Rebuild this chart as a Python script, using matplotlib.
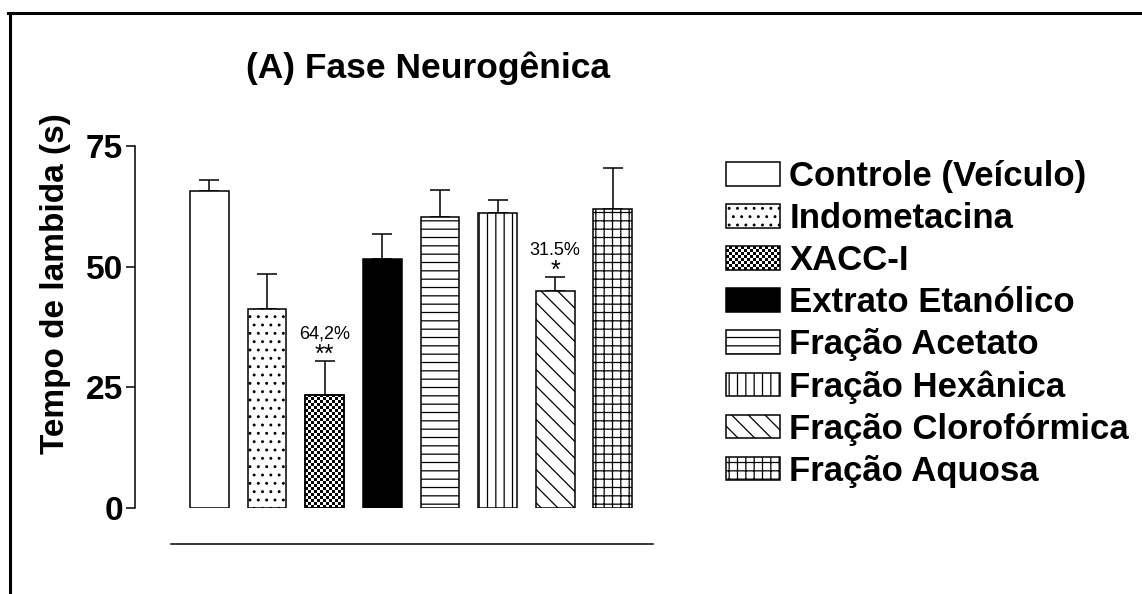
import numpy as np
import matplotlib
matplotlib.use("Agg")
import matplotlib.pyplot as plt
from matplotlib.patches import Rectangle
from matplotlib.lines import Line2D
from matplotlib.legend_handler import HandlerPatch

plt.rcParams['font.family'] = ['Liberation Sans', 'DejaVu Sans']
plt.rcParams['hatch.linewidth'] = 0.9

# Tempo de lambida na fase neurogênica (média e EPM)
grupos = ['Controle (Veículo)', 'Indometacina', 'XACC-I', 'Extrato Etanólico',
          'Fração Acetato', 'Fração Hexânica', 'Fração Clorofórmica', 'Fração Aquosa']
medias = [65.6, 41.2, 23.5, 51.6, 60.3, 61.2, 44.9, 61.9]
epm = [2.4, 7.2, 7.0, 5.1, 5.5, 2.6, 2.9, 8.5]
hachuras = ['', '..', None, '', '--', '||', '\\\\', '++']
cores = ['white', 'white', 'white', 'black', 'white', 'white', 'white', 'white']
inibicao = {2: ('64,2%', '**'), 6: ('31.5%', '*')}

W, H = 1142, 594
fig = plt.figure(figsize=(W / 100, H / 100), dpi=100)
ax = fig.add_axes([135 / W, 1 - 508 / H, (652.7 - 135) / W, (508 - 146) / H])

x = np.arange(len(grupos))
bars = ax.bar(x, medias, width=0.675, color=cores, edgecolor='black', linewidth=1.1,
              hatch=[h or '' for h in hachuras], zorder=2)
ax.errorbar(x, medias, yerr=[np.zeros(len(epm)), epm], fmt='none', ecolor='black',
            elinewidth=1.1, capsize=7.2, capthick=1.1, zorder=1)

ax.set_xlim(-1.29, 7.69)
ax.set_ylim(0, 75)


def checker_squares(x0, y0, w, h, nx, ny, **kw):
    cw, ch = w / nx, h / ny
    quads = []
    for i in range(nx):
        for j in range(ny):
            if (i + j) % 2 == 0:
                quads.append(Rectangle((x0 + i * cw, y0 + j * ch), cw, ch,
                                       facecolor='black', edgecolor='none', **kw))
    return quads


# XACC-I: fill in checkerboard of ~3 px cells
b = bars[2]
px_per_x = ax.transData.transform((1, 0))[0] - ax.transData.transform((0, 0))[0]
px_per_y = ax.transData.transform((0, 1))[1] - ax.transData.transform((0, 0))[1]
nx = int(round(b.get_width() * px_per_x / 3))
ny = int(round(b.get_height() * px_per_y / 3))
for sq in checker_squares(b.get_x(), 0, b.get_width(), ny * 3 / px_per_y, nx, ny, zorder=2.5):
    sq.set_clip_path(b)
    ax.add_patch(sq)
ax.add_patch(Rectangle((b.get_x(), 0), b.get_width(), b.get_height(), fill=False,
                       edgecolor='black', linewidth=1.1, zorder=3))

for i, (pct, star) in inibicao.items():
    top = medias[i] + epm[i]
    ax.text(x[i], top + 1.3, star, ha='center', va='center', fontsize=18)
    ax.text(x[i], top + 5.6, pct, ha='center', va='center', fontsize=13)

for s in ['top', 'right']:
    ax.spines[s].set_visible(False)
ax.spines['left'].set_linewidth(1.1)
ax.spines['left'].set_bounds(0, 75)
ax.spines['bottom'].set_position(('outward', 26))
ax.spines['bottom'].set_bounds(-0.67, 7.69)
ax.spines['bottom'].set_linewidth(1.1)
ax.set_xticks([])
ax.set_yticks([0, 25, 50, 75])
ax.tick_params(axis='y', length=6.5, width=1.1, pad=2.2, labelsize=24)
for lbl in ax.get_yticklabels():
    lbl.set_fontweight('bold')


class HandlerChecker(HandlerPatch):
    def create_artists(self, legend, orig_handle, xdescent, ydescent, width, height,
                       fontsize, trans):
        x0, y0 = -xdescent, -ydescent
        arts = checker_squares(x0, y0, width, height, 18, 8)
        frame = Rectangle((x0, y0), width, height, fill=False, edgecolor='black', linewidth=1.1)
        for a in arts + [frame]:
            a.set_transform(trans)
        return arts + [frame]


leg = fig.legend(bars.patches, grupos, loc='upper left', bbox_to_anchor=(726 / W, 1 - 160 / H),
                 frameon=False, borderpad=0, borderaxespad=0,
                 handlelength=1.56, handleheight=0.66, handletextpad=0.26, labelspacing=0.26,
                 prop={'weight': 'bold', 'size': 25},
                 handler_map={bars.patches[2]: HandlerChecker()})

fig.text(428.5 / W, 1 - 78 / H, '(A) Fase Neurogênica', ha='center', va='baseline',
         fontsize=25.5, fontweight='bold')
fig.text(56 / W, 1 - 284 / H, 'Tempo de lambida (s)', rotation=90, ha='center', va='center',
         fontsize=24, fontweight='bold')

# outer border (left and top)
fig.add_artist(Line2D([9.5 / W, 9.5 / W], [0, 1 - 13 / H], color='black', linewidth=2.2))
fig.add_artist(Line2D([8 / W, 1], [1 - 13 / H, 1 - 13 / H], color='black', linewidth=2.2))

fig.savefig('out.png', dpi=100)
